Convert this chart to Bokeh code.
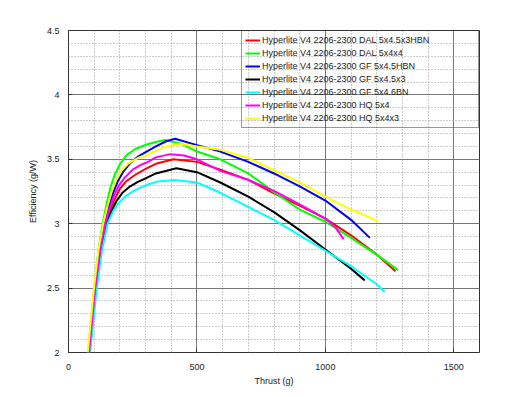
from bokeh.plotting import figure
from bokeh.models import Range1d, FixedTicker
from bokeh.embed import file_html
from bokeh.resources import INLINE

# ---- data ----
series_labels = [
    "Hyperlite V4 2206-2300 DAL 5x4.5x3HBN",
    "Hyperlite V4 2206-2300 DAL 5x4x4",
    "Hyperlite V4 2206-2300 GF 5x4.5HBN",
    "Hyperlite V4 2206-2300 GF 5x4.5x3",
    "Hyperlite V4 2206-2300 GF 5x4.6BN",
    "Hyperlite V4 2206-2300 HQ 5x4",
    "Hyperlite V4 2206-2300 HQ 5x4x3",
]

dal_5x45x3hbn_x = [80, 105, 125, 145, 163, 182, 200, 225, 260, 304, 340, 409, 500, 591, 700, 800, 900, 1000, 1100, 1200, 1273]
dal_5x45x3hbn_y = [2.0, 2.5, 2.8, 3.0, 3.11, 3.20, 3.27, 3.33, 3.38, 3.43, 3.465, 3.50, 3.48, 3.42, 3.34, 3.235, 3.14, 3.04, 2.91, 2.76, 2.63]

dal_5x4x4_x = [77, 100, 117, 133, 148, 163, 180, 200, 225, 260, 304, 340, 376, 440, 500, 591, 700, 800, 900, 1000, 1100, 1200, 1283]
dal_5x4x4_y = [2.0, 2.5, 2.8, 3.0, 3.15, 3.28, 3.38, 3.46, 3.53, 3.58, 3.615, 3.635, 3.65, 3.62, 3.56, 3.50, 3.39, 3.245, 3.11, 3.015, 2.89, 2.76, 2.64]

gf_5x45hbn_x = [78, 102, 121, 140, 157, 174, 192, 212, 240, 270, 304, 340, 380, 415, 500, 591, 700, 800, 900, 1000, 1100, 1173]
gf_5x45hbn_y = [2.0, 2.5, 2.8, 3.0, 3.13, 3.24, 3.33, 3.40, 3.47, 3.52, 3.56, 3.60, 3.64, 3.66, 3.61, 3.56, 3.48, 3.39, 3.29, 3.18, 3.03, 2.89]

gf_5x45x3_x = [82, 107, 128, 149, 168, 188, 210, 240, 270, 304, 340, 420, 500, 591, 700, 800, 900, 1000, 1100, 1153]
gf_5x45x3_y = [2.0, 2.5, 2.8, 3.0, 3.10, 3.18, 3.24, 3.29, 3.325, 3.355, 3.39, 3.43, 3.40, 3.32, 3.21, 3.09, 2.95, 2.80, 2.65, 2.56]

gf_5x46bn_x = [84, 110, 131, 152, 172, 195, 220, 250, 280, 304, 340, 410, 500, 591, 700, 800, 900, 1000, 1100, 1200, 1231]
gf_5x46bn_y = [2.0, 2.5, 2.8, 3.0, 3.09, 3.16, 3.21, 3.25, 3.28, 3.30, 3.325, 3.34, 3.32, 3.24, 3.13, 3.03, 2.91, 2.79, 2.67, 2.53, 2.47]

hq_5x4_x = [80, 104, 124, 143, 160, 178, 197, 220, 250, 280, 304, 340, 396, 450, 500, 591, 700, 800, 900, 1000, 1040, 1071]
hq_5x4_y = [2.0, 2.5, 2.8, 3.0, 3.12, 3.22, 3.30, 3.36, 3.42, 3.455, 3.475, 3.515, 3.54, 3.53, 3.50, 3.41, 3.34, 3.255, 3.15, 3.04, 2.97, 2.88]

hq_5x4x3_x = [75, 99, 117, 135, 152, 168, 185, 205, 235, 270, 304, 340, 380, 430, 500, 591, 700, 800, 900, 1000, 1100, 1205]
hq_5x4x3_y = [2.0, 2.5, 2.8, 3.0, 3.14, 3.25, 3.34, 3.41, 3.47, 3.51, 3.535, 3.565, 3.60, 3.62, 3.60, 3.575, 3.51, 3.415, 3.32, 3.21, 3.11, 3.02]

series_x = [dal_5x45x3hbn_x, dal_5x4x4_x, gf_5x45hbn_x, gf_5x45x3_x, gf_5x46bn_x, hq_5x4_x, hq_5x4x3_x]
series_y = [dal_5x45x3hbn_y, dal_5x4x4_y, gf_5x45hbn_y, gf_5x45x3_y, gf_5x46bn_y, hq_5x4_y, hq_5x4x3_y]
series_colors = ["#ff0000", "#00ff00", "#0000ff", "#000000", "#00ffff", "#ff00ff", "#ffff00"]

x_ticks = [0, 500, 1000, 1500]
x_tick_labels = ["0", "500", "1000", "1500"]
y_ticks = [2, 2.5, 3, 3.5, 4, 4.5]
y_tick_labels = ["2", "2.5", "3", "3.5", "4", "4.5"]
x_minor = [v * 100 for v in range(0, 17)]
y_minor = [round(2 + v * 0.1, 1) for v in range(0, 26)]

FONT = "Liberation Sans"

p = figure(width=521, height=389, output_backend="svg", toolbar_location=None,
           x_range=Range1d(0, 1600), y_range=Range1d(2, 4.5),
           min_border_left=68, min_border_right=42, min_border_top=30, min_border_bottom=37)
p.background_fill_color = "white"
p.border_fill_color = "white"
p.outline_line_color = "#333333"
p.outline_line_width = 1

p.xaxis.ticker = FixedTicker(ticks=x_ticks, minor_ticks=x_minor)
p.yaxis.ticker = FixedTicker(ticks=y_ticks, minor_ticks=y_minor)
p.xaxis.major_label_overrides = dict(zip(x_ticks, x_tick_labels))
p.yaxis.major_label_overrides = dict(zip(y_ticks, y_tick_labels))

for ax in (p.xaxis, p.yaxis):
    ax.axis_line_color = None
    ax.major_tick_in = 4
    ax.major_tick_out = 0
    ax.major_tick_line_color = "#333333"
    ax.minor_tick_line_color = None
    ax.major_label_text_font = FONT
    ax.major_label_text_font_size = "9px"
    ax.major_label_text_color = "#222222"
    ax.axis_label_text_font = FONT
    ax.axis_label_text_font_size = "9px"
    ax.axis_label_text_font_style = "normal"
    ax.axis_label_text_color = "#222222"

p.xaxis.axis_label = "Thrust (g)"
p.yaxis.axis_label = "Efficiency (g/W)"
p.xaxis.major_label_standoff = 7
p.xaxis.axis_label_standoff = 3
p.yaxis.major_label_standoff = 5
p.yaxis.axis_label_standoff = 6

for g in (p.xgrid, p.ygrid):
    g.grid_line_color = "#777777"
    g.grid_line_width = 1
    g.minor_grid_line_color = "#999999"
    g.minor_grid_line_dash = "1 2"
    g.minor_grid_line_width = 1

for xs, ys, col, lab in zip(series_x, series_y, series_colors, series_labels):
    p.line(xs, ys, line_color=col, line_width=2, line_join="round", legend_label=lab)

lg = p.legend[0]
lg.location = "top_right"
lg.margin = 0
lg.padding = 3
lg.spacing = 1
lg.glyph_height = 12
lg.label_height = 12
lg.glyph_width = 15
lg.label_standoff = 2
lg.label_width = 213
lg.label_text_font = FONT
lg.label_text_font_size = "9px"
lg.label_text_color = "#222222"
lg.background_fill_alpha = 0
lg.border_line_color = "#333333"
lg.border_line_width = 1

open("out.html", "w").write(file_html(p, INLINE))
